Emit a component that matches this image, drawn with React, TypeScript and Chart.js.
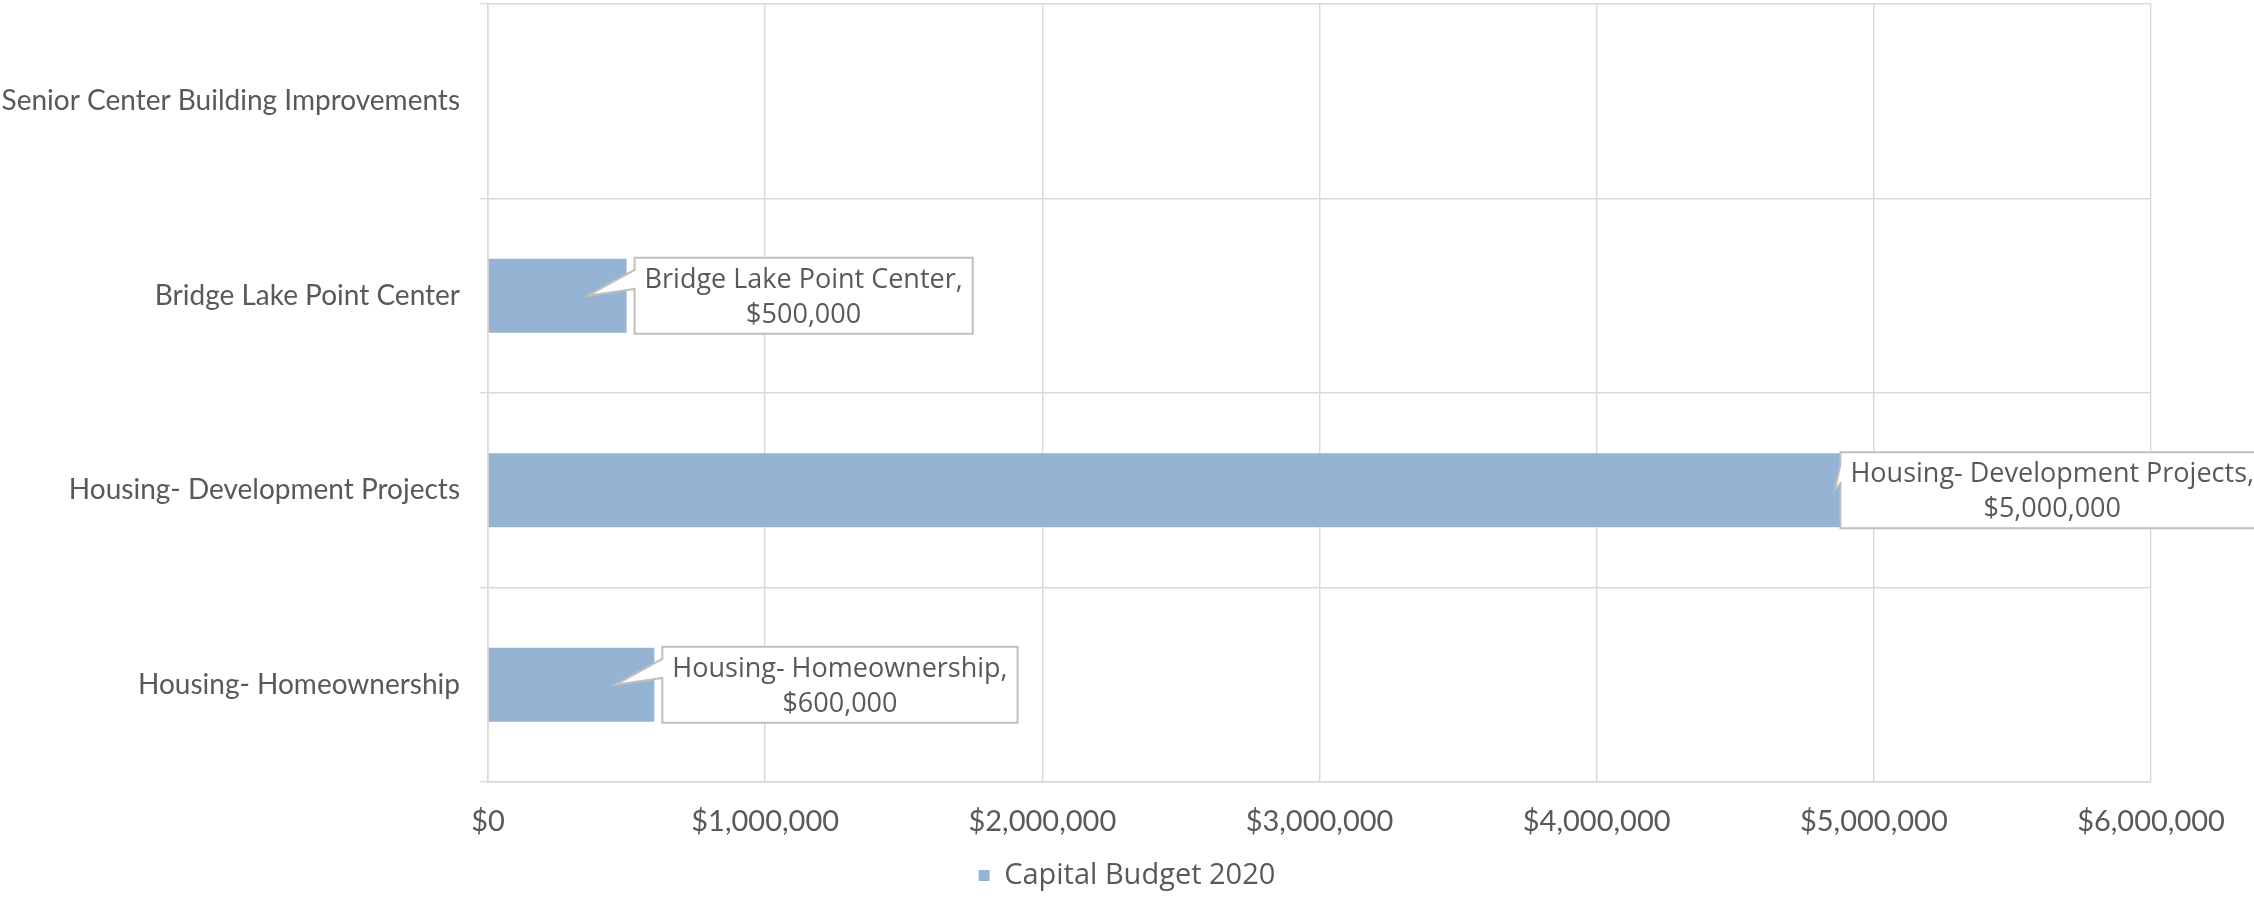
import React, { useEffect, useRef } from "react";
import { Chart, registerables } from "chart.js";

Chart.register(...registerables);

const categories = [
  "Senior Center Building Improvements",
  "Bridge Lake Point Center",
  "Housing- Development Projects",
  "Housing- Homeownership",
];
const budget2020: (number | null)[] = [null, 500000, 5000000, 600000];
const seriesName = "Capital Budget 2020";
const xMin = 0;
const xMax = 6000000;
const xStep = 1000000;

const W = 2254;
const H = 900;
const TEXT = "#595959";
const GRID = "#D9D9D9";
const BAR = "#95B3D2";

const money = (v: number) => "$" + Math.round(v).toLocaleString("en-US");

const calloutPlugin = {
  id: "callouts",
  afterDatasetsDraw(chart: any) {
    const meta = chart.getDatasetMeta(0);
    const ctx: CanvasRenderingContext2D = chart.ctx;
    ctx.save();
    ctx.font = '27px "Open Sans"';
    meta.data.forEach((bar: any, i: number) => {
      const v = budget2020[i];
      if (v == null) return;
      const lines = [categories[i] + ",", money(v)];
      const tw = Math.max(...lines.map((l) => ctx.measureText(l).width));
      const w = tw + 20;
      const h = 76;
      const barEnd = bar.x;
      const cy = bar.y;
      let left = barEnd + 8;
      if (left + w > chart.width) left = chart.width - w + 10;
      const top = cy - h / 2;
      const tipX = barEnd - 39;
      const tipY = cy;
      ctx.beginPath();
      ctx.moveTo(left, top);
      ctx.lineTo(left + w, top);
      ctx.lineTo(left + w, top + h);
      ctx.lineTo(left, top + h);
      ctx.lineTo(left, top + h * 0.41);
      ctx.lineTo(tipX, tipY);
      ctx.lineTo(left, top + h * 0.16);
      ctx.closePath();
      ctx.fillStyle = "#ffffff";
      ctx.fill();
      ctx.strokeStyle = "#BFBFBF";
      ctx.lineWidth = 2;
      ctx.stroke();
      ctx.fillStyle = TEXT;
      ctx.textAlign = "center";
      ctx.textBaseline = "alphabetic";
      ctx.fillText(lines[0], left + w / 2, cy - 8);
      ctx.fillText(lines[1], left + w / 2, cy + 27);
    });
    ctx.restore();
  },
};

export default function App() {
  const ref = useRef<HTMLCanvasElement | null>(null);
  useEffect(() => {
    if (!ref.current) return;
    const chart = new Chart(ref.current, {
      type: "bar",
      data: {
        labels: categories,
        datasets: [
          {
            label: seriesName,
            data: budget2020 as any,
            backgroundColor: BAR,
            borderWidth: 0,
            barPercentage: 0.38,
            categoryPercentage: 1,
          },
        ],
      },
      options: {
        indexAxis: "y",
        responsive: false,
        animation: false,
        layout: { padding: { top: 4, right: 0, left: 0, bottom: 0 } },
        plugins: {
          tooltip: { enabled: false },
          legend: {
            position: "bottom",
            labels: {
              boxWidth: 11,
              boxHeight: 11,
              color: TEXT,
              padding: 10,
              font: { family: '"Open Sans"', size: 29, lineHeight: 1 },
            },
          },
        },
        scales: {
          x: {
            type: "linear",
            min: xMin,
            max: xMax,
            afterFit: (s: any) => {
              const lg = s.chart.legend;
              s.height = H - 782 - (lg ? lg.height : 0);
            },
            ticks: {
              stepSize: xStep,
              color: TEXT,
              padding: 22,
              font: { family: "Lato", size: 29 },
              callback: (v: any) => money(Number(v)),
            },
            grid: { color: GRID, lineWidth: 1.4, drawTicks: false },
            border: { color: GRID, width: 1.6 },
          },
          y: {
            type: "category",
            afterFit: (s: any) => {
              s.width = 488;
              s.paddingTop = 0;
              s.paddingBottom = 0;
            },
            ticks: {
              color: TEXT,
              padding: 20,
              font: { family: "Lato", size: 28 },
            },
            grid: { color: GRID, lineWidth: 1.4, offset: true, tickLength: 8, drawTicks: true },
            border: { color: GRID, width: 1.6 },
          },
          ySpacer: {
            type: "category",
            position: "right",
            display: true,
            afterFit: (s: any) => {
              s.width = 103;
              s.paddingTop = 0;
              s.paddingBottom = 0;
            },
            ticks: { display: false },
            grid: { display: false, drawTicks: false },
            border: { display: false },
          },
        },
      },
      plugins: [calloutPlugin],
    });
    return () => chart.destroy();
  }, []);
  return (
    <div style={{ position: "fixed", left: 0, top: 0, width: W, height: H, background: "#fff" }}>
      <canvas ref={ref} width={W} height={H} style={{ display: "block" }} />
    </div>
  );
}
